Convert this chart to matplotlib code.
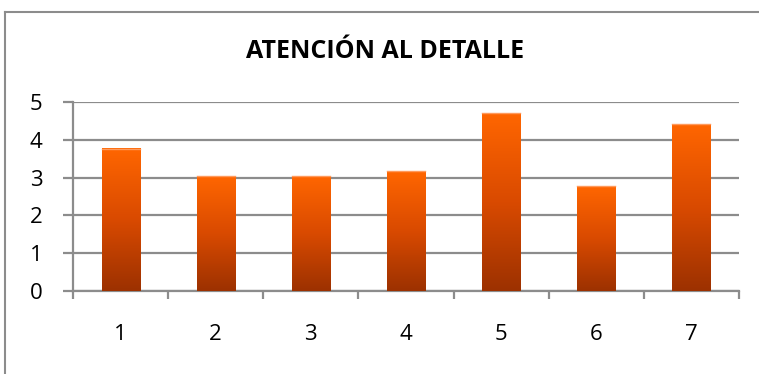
import numpy as np
import matplotlib
matplotlib.use("Agg")
import matplotlib.pyplot as plt
from matplotlib.colors import LinearSegmentedColormap
from matplotlib.lines import Line2D

# puntuaciones por ítem
categorias = ["1", "2", "3", "4", "5", "6", "7"]
valores = [3.76, 3.03, 3.03, 3.17, 4.70, 2.77, 4.41]
y_ticks = [0, 1, 2, 3, 4, 5]
titulo = "ATENCIÓN AL DETALLE"

plt.rcParams['font.family'] = ['Open Sans', 'DejaVu Sans']

W, H = 759, 374
fig = plt.figure(figsize=(W / 100, H / 100), dpi=100)

# marco del gráfico (solo borde superior e izquierdo)
gris = "#8c8c8c"
fig.add_artist(Line2D([5 / W, 5 / W], [0, 1 - 12 / H], color=gris, lw=1.5,
                      transform=fig.transFigure))
fig.add_artist(Line2D([5 / W, 1], [1 - 12 / H, 1 - 12 / H], color=gris, lw=1.5,
                      transform=fig.transFigure))

left, right, top, bottom = 73, 739, 102, 291
ax = fig.add_axes([left / W, 1 - bottom / H, (right - left) / W, (bottom - top) / H])

x = np.arange(len(categorias))
ancho = 0.4
barras = ax.bar(x, valores, width=ancho, color="none", zorder=3)

# degradado naranja -> marrón en cada barra
cmap = LinearSegmentedColormap.from_list("naranja", ["#9c3100", "#d94a00", "#ff6600"])
grad = np.linspace(0, 1, 256).reshape(-1, 1)
for b in barras:
    x0 = b.get_x()
    h = b.get_height()
    ax.imshow(grad, cmap=cmap, origin="lower", aspect="auto",
              extent=(x0, x0 + ancho, 0, h), zorder=3)
    ax.plot([x0, x0 + ancho], [h, h], color="#ff9a5c", lw=1, zorder=4)

ax.set_xlim(-0.5, len(categorias) - 0.5)
ax.set_ylim(0, 5)
ax.set_yticks(y_ticks)
ax.yaxis.grid(True, color=gris, lw=1.6, zorder=1)
ax.set_axisbelow(True)

for s in ["top", "right"]:
    ax.spines[s].set_visible(False)
for s in ["left", "bottom"]:
    ax.spines[s].set_color(gris)
    ax.spines[s].set_linewidth(1.6)

# marcas del eje x entre categorías
ax.set_xticks(np.arange(-0.5, len(categorias), 1))
ax.set_xticklabels([])
ax.set_xticks(x, minor=True)
ax.set_xticklabels(categorias, minor=True)
ax.tick_params(axis="x", which="major", length=6, width=1.6, color=gris)
ax.tick_params(axis="x", which="minor", length=0, pad=24, labelsize=16)
ax.tick_params(axis="y", length=7, width=1.6, color=gris, pad=15, labelsize=16)

fig.text(385 / W, 1 - 51 / H, titulo, ha="center", va="center",
         fontsize=18, fontweight="bold")

fig.savefig("out.png", dpi=100)
